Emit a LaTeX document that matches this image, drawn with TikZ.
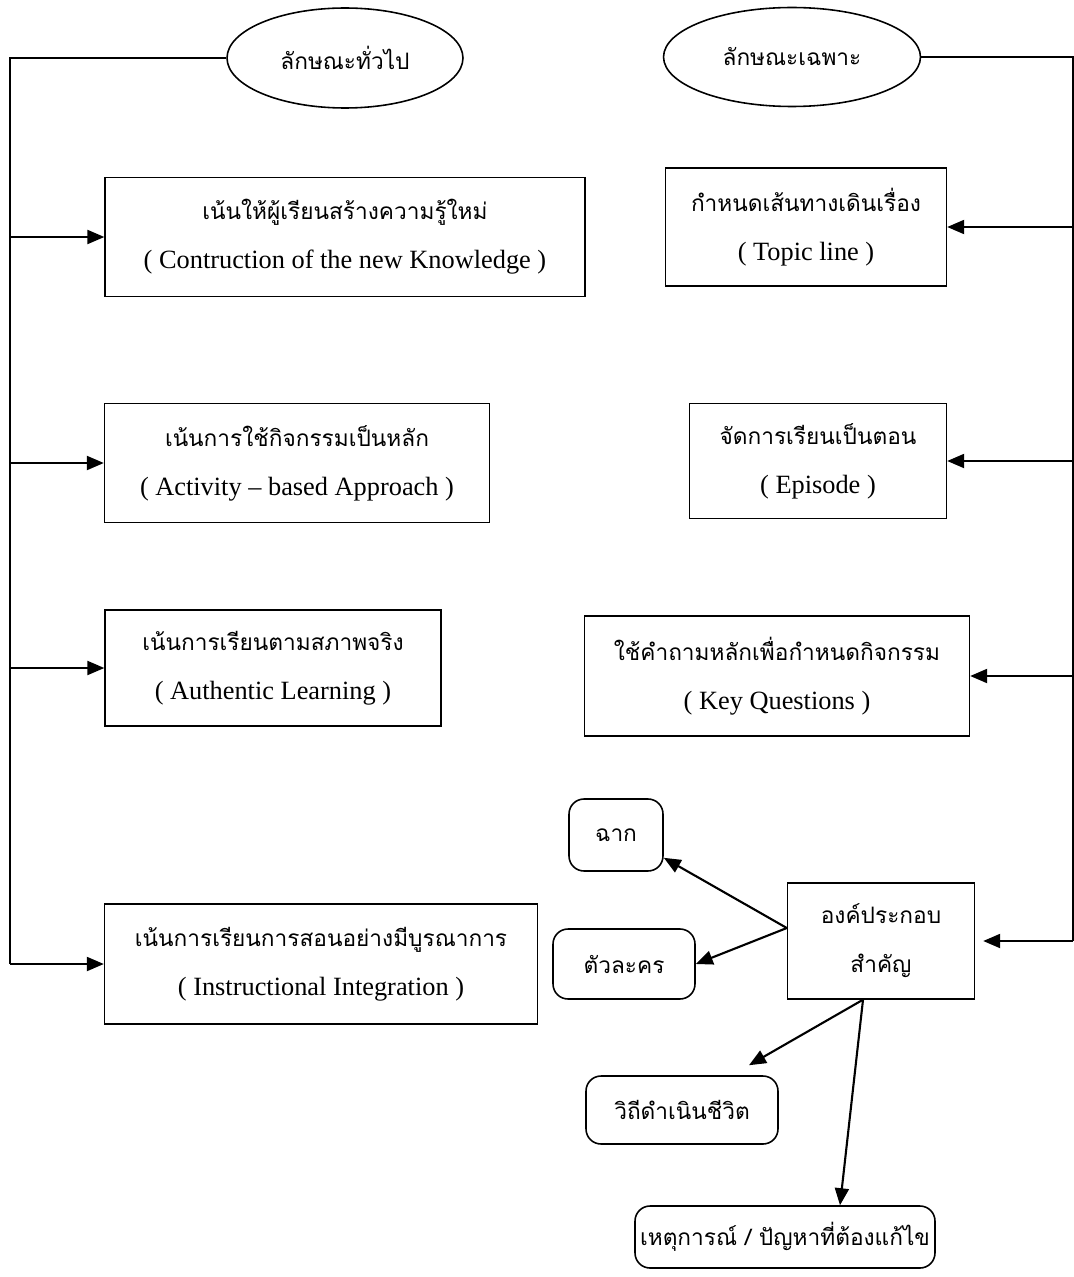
\documentclass[tikz,border=0pt]{standalone}
\usepackage{fontspec}
\setmainfont{Liberation Serif}
\newfontfamily\thai[Script=Thai,Scale=0.86]{Loma}
\usetikzlibrary{shapes.geometric,arrows.meta}
\tikzset{
  topic/.style={draw, ellipse, line width=0.9pt, inner sep=0pt},
  box/.style={draw, rectangle, line width=0.8pt, align=center, inner sep=0pt},
  rbox/.style={draw, rectangle, rounded corners=3mm, line width=0.9pt, align=center, inner sep=0pt},
  arr/.style={line width=1.2pt, -{Triangle[length=3.4mm,width=2.8mm]}},
  link/.style={line width=1.1pt}
}
\begin{document}
\begin{tikzpicture}[x=0.02cm, y=-0.02cm, font=\fontsize{15}{28}\selectfont]
			%%%%% START %%%%%
			\useasboundingbox (0,0) rectangle (1074,1277);
			
			% two topics
			\node[topic, minimum width=4.72cm, minimum height=2cm] (genell) at (345,58) {\thai ลักษณะทั่วไป};
			\node[topic, minimum width=5.14cm, minimum height=1.98cm] (specell) at (792,57) {\thai ลักษณะเฉพาะ};
			
			% general side
			\node[box, minimum width=9.6cm, minimum height=2.38cm] (gen1) at (345,237) {\thai เน้นให้ผู้เรียนสร้างความรู้ใหม่\\( Contruction of the new Knowledge )};
			\node[box, minimum width=7.7cm, minimum height=2.38cm] (gen2) at (297,463) {\thai เน้นการใช้กิจกรรมเป็นหลัก\\( Activity -- based Approach )};
			\node[box, minimum width=6.72cm, minimum height=2.32cm] (gen3) at (273,668) {\thai เน้นการเรียนตามสภาพจริง\\( Authentic Learning )};
			\node[box, minimum width=8.66cm, minimum height=2.4cm] (gen4) at (321,964) {\thai เน้นการเรียนการสอนอย่างมีบูรณาการ\\( Instructional Integration )};
			
			% specific side
			\node[box, minimum width=5.62cm, minimum height=2.36cm] (spec1) at (806,227) {\thai กำหนดเส้นทางเดินเรื่อง\\( Topic line )};
			\node[box, minimum width=5.14cm, minimum height=2.3cm] (spec2) at (818,461) {\thai จัดการเรียนเป็นตอน\\( Episode )};
			\node[box, minimum width=7.7cm, minimum height=2.4cm] (spec3) at (777,676) {\thai ใช้คำถามหลักเพื่อกำหนดกิจกรรม\\( Key Questions )};
			\node[box, minimum width=3.74cm, minimum height=2.32cm] (elem) at (881,941) {\thai องค์ประกอบ\\\thai สำคัญ};
			
			% elements
			\node[rbox, minimum width=1.88cm, minimum height=1.44cm] (scene) at (616,835) {\thai ฉาก};
			\node[rbox, minimum width=2.84cm, minimum height=1.4cm] (chars) at (624,964) {\thai ตัวละคร};
			\node[rbox, minimum width=3.84cm, minimum height=1.36cm] (life) at (682,1110) {\thai วิถีดำเนินชีวิต};
			\node[rbox, minimum width=6cm, minimum height=1.24cm] (event) at (785,1237) {\thai เหตุการณ์ / ปัญหาที่ต้องแก้ไข};
			
			% left trunk
			\coordinate (ltop) at (10,58);
			\coordinate (lbot) at (ltop |- gen4.west);
			\draw[link] (genell.west) -- (ltop) -- (lbot);
			\foreach \b in {gen1,gen2,gen3,gen4}
				\draw[arr] (ltop |- \b.west) -- (\b.west);
			
			% right trunk
			\coordinate (rtop) at (1073,57);
			\coordinate (rbot) at (rtop |- elem.east);
			\draw[link] (specell.east) -- (rtop) -- (rbot);
			\foreach \b in {spec1,spec2,spec3}
				\draw[arr] (rtop |- \b.east) -- (\b.east);
			\draw[arr, shorten >=0.16cm] (rbot) -- (elem.east);
			
			% element arrows
			\draw[arr] ([yshift=0.26cm]elem.west) -- ([yshift=0.28cm]scene.south east);
			\draw[arr] ([yshift=0.26cm]elem.west) -- (chars.east);
			\draw[arr] ([xshift=-0.36cm]elem.south) -- ([xshift=1.34cm,yshift=0.2cm]life.north);
			\draw[arr] ([xshift=-0.36cm]elem.south) -- ([xshift=1.1cm]event.north);
			
			%%%%% END %%%%%
\end{tikzpicture}
\end{document}
